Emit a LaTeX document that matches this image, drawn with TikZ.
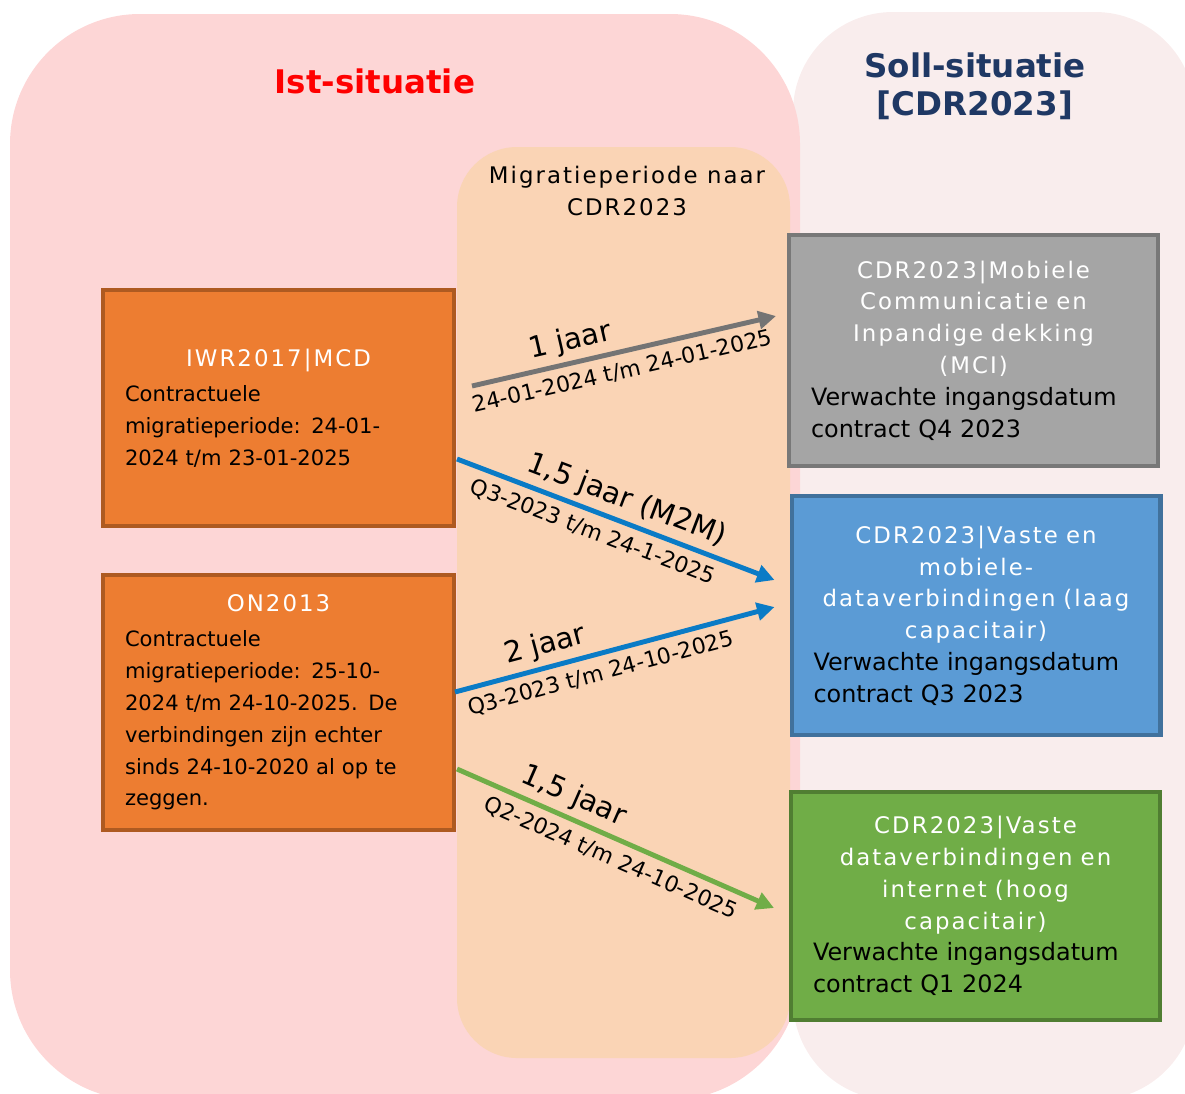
\documentclass[tikz,border=0pt]{standalone}
\usepackage{fontspec}
\setmainfont{DejaVu Sans}
\newfontfamily\spaced[LetterSpace=9]{DejaVu Sans}
\usetikzlibrary{arrows.meta,positioning}
\definecolor{istroze}{HTML}{FDD6D6}
\definecolor{sollroze}{HTML}{F9EDED}
\definecolor{perzik}{HTML}{FAD4B5}
\definecolor{oranje}{HTML}{ED7D31}
\definecolor{oranjerand}{HTML}{AE5A21}
\definecolor{grijs}{HTML}{A5A5A5}
\definecolor{grijsrand}{HTML}{787878}
\definecolor{blauw}{HTML}{5B9BD5}
\definecolor{blauwrand}{HTML}{41719C}
\definecolor{groen}{HTML}{70AD47}
\definecolor{groenrand}{HTML}{507E32}
\definecolor{pijlgrijs}{HTML}{747474}
\definecolor{pijlblauw}{HTML}{0A7BC6}
\definecolor{pijlgroen}{HTML}{70AD47}
\definecolor{sollblauw}{HTML}{1F3864}
\def\kop#1{
  % 1: witte titel, gecentreerd
  {\spaced\fontsize{13}{18.1}\selectfont\color{white}\centering #1\par}\raggedright
}
\tikzset{
  blok/.style={draw, line width=2.3pt, inner sep=0pt},
  oud/.style={blok, fill=oranje, draw=oranjerand, minimum width=7.02cm, text width=6.14cm, font=\fontsize{12}{18.1}\selectfont},
  nieuw/.style={blok, minimum width=7.38cm, text width=6.5cm, font=\fontsize{13.6}{18.1}\selectfont},
  pijl/.style={line width=2.8pt, -{Triangle[length=10pt,width=10pt]}},
  boven/.style={above, sloped, text=black, inner sep=3pt, font=\fontsize{16.5}{16.5}\selectfont},
  onder/.style={below, sloped, text=black, inner sep=4.5pt, font=\fontsize{12.5}{12.5}\selectfont}
}
\begin{document}
\begin{tikzpicture}[x=0.02cm,y=-0.02cm]
    \useasboundingbox (0,0) rectangle (1185,1093);
    \clip (0,0) rectangle (1185,1093);
    % achtergrondvlakken
    \fill[sollroze, rounded corners=2cm] (793,12) rectangle (1195,1100);
    \fill[istroze, rounded corners=2.6cm] (10,14) rectangle (800,1100);
    \fill[perzik, rounded corners=1.2cm] (457,147) rectangle (790,1058);

    \node[font=\fontsize{18.5}{21.5}\selectfont\bfseries, text=red] (ist) at (375,81) {Ist-situatie};
    \node[font=\fontsize{18.5}{21.5}\selectfont\bfseries, text=sollblauw, align=center] (soll) at (975,86) {Soll-situatie\\{[CDR2023]}};
    \node[font=\spaced\fontsize{13}{18.1}\selectfont, align=center] (migratie) at (627,191) {Migratieperiode naar\\CDR2023};

    % huidige contracten
    \node[oud, minimum height=4.72cm] (iwr) at (278.5,408) {\kop{IWR2017|MCD}\vspace{2pt}Contractuele\\migratieperiode: 24-01-\\2024 t/m 23-01-2025};
    \node[oud, minimum height=5.1cm] (on) at (278.5,702.5) {\kop{ON2013}\vspace{2pt}Contractuele\\migratieperiode: 25-10-\\2024 t/m 24-10-2025. De\\verbindingen zijn echter\\sinds 24-10-2020 al op te\\zeggen.};

    % nieuwe percelen
    \node[nieuw, fill=grijs, draw=grijsrand, minimum height=4.62cm] (mci) at (973.5,350.5) {\kop{CDR2023|Mobiele\\Communicatie en\\Inpandige dekking\\(MCI)}Verwachte ingangsdatum\\contract Q4 2023};
    \node[nieuw, fill=blauw, draw=blauwrand, minimum height=4.78cm] (laag) at (976,615.5) {\kop{CDR2023|Vaste en\\mobiele-\\dataverbindingen (laag\\capacitair)}Verwachte ingangsdatum\\contract Q3 2023};
    \node[nieuw, fill=groen, draw=groenrand, minimum height=4.56cm] (hoog) at (975.5,906) {\kop{CDR2023|Vaste\\dataverbindingen en\\internet (hoog\\capacitair)}Verwachte ingangsdatum\\contract Q1 2024};

    % migratiepijlen
    \draw[pijl, pijlgrijs] ([shift={(16,-22)}]iwr.east) -- node[boven, pos=.34] {1 jaar} node[onder, pos=.48] {24-01-2024 t/m 24-01-2025} ([shift={(-11,-34.5)}]mci.west);
    \draw[pijl, pijlblauw] ([shift={(1,51)}]iwr.east) -- node[boven, pos=.51] {1,5 jaar (M2M)} node[onder, pos=.45] {Q3-2023 t/m 24-1-2025} ([shift={(-15,-35.5)}]laag.west);
    \draw[pijl, pijlblauw] ([shift={(-1,-10.5)}]on.east) -- node[boven, pos=.3] {2 jaar} node[onder, pos=.44] {Q3-2023 t/m 24-10-2025} ([shift={(-15,-8.5)}]laag.west);
    \draw[pijl, pijlgroen] ([shift={(1,66.5)}]on.east) -- node[boven, pos=.34] {1,5 jaar} node[onder, pos=.51] {Q2-2024 t/m 24-10-2025} ([shift={(-15,2)}]hoog.west);
\end{tikzpicture}
\end{document}
